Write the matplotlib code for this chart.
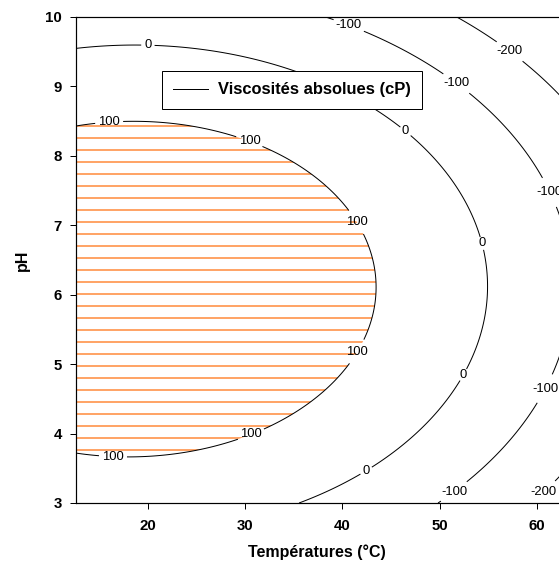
import numpy as np
import matplotlib
matplotlib.use("Agg")
import matplotlib.pyplot as plt

# points (temperature degC, pH)
lvl100_T = [12.6, 16.0, 20.2, 28.4, 33.6, 37.6, 39.3, 41.0, 43.0, 43.7, 43.2, 42.4, 40.6, 30.6, 20.1, 12.6]
lvl100_pH = [8.46, 8.50, 8.46, 8.23, 8.05, 7.65, 7.46, 7.17, 6.68, 6.17, 5.64, 5.25, 4.92, 3.99, 3.66, 3.74]
lvl0_T = [12.6, 20.0, 33.6, 46.6, 54.4, 55.5, 52.4, 42.3, 35.8]
lvl0_pH = [9.55, 9.61, 9.26, 8.37, 6.74, 6.00, 4.85, 3.50, 3.00]
lvlm100_T = [38.0, 41.4, 50.8, 51.5, 60.8, 60.8, 51.4, 49.5]
lvlm100_pH = [10.0, 9.81, 9.14, 9.0, 7.44, 4.73, 3.20, 3.00]
lvlm200_T = [52.1, 58.1, 62.4, 60.8, 60.0]
lvlm200_pH = [10.0, 9.54, 8.80, 3.15, 3.00]

levels = [-200, -100, 0, 100]
x_ticks = [20, 30, 40, 50, 60]
y_ticks = [3, 4, 5, 6, 7, 8, 9, 10]

# label positions on the lines
label_pos = [(20.0, 9.61), (46.6, 8.37), (54.4, 6.74), (52.4, 4.85), (42.3, 3.5),
             (16.0, 8.5), (30.5, 8.23), (41.5, 7.05), (41.5, 5.18), (30.6, 3.99), (16.4, 3.66),
             (40.5, 9.82), (51.5, 9.0), (60.8, 7.44), (60.8, 4.65), (51.4, 3.18),
             (57.2, 9.5), (60.8, 3.14)]

# quadratic response surface fitted through the read points
T_all = np.array(lvl100_T + lvl0_T + lvlm100_T + lvlm200_T)
P_all = np.array(lvl100_pH + lvl0_pH + lvlm100_pH + lvlm200_pH)
V_all = np.array([100] * len(lvl100_T) + [0] * len(lvl0_T)
                 + [-100] * len(lvlm100_T) + [-200] * len(lvlm200_T), dtype=float)
A = np.column_stack([np.ones_like(T_all), T_all, P_all, T_all**2, P_all**2, T_all * P_all])
coef = np.linalg.lstsq(A, V_all, rcond=None)[0]

tt, pp = np.meshgrid(np.linspace(12.6, 66, 400), np.linspace(3, 10, 400))
zz = (coef[0] + coef[1] * tt + coef[2] * pp + coef[3] * tt**2
      + coef[4] * pp**2 + coef[5] * tt * pp)

plt.rcParams['font.family'] = ['Liberation Sans', 'DejaVu Sans']
plt.rcParams['hatch.color'] = '#ff8836'
plt.rcParams['hatch.linewidth'] = 1.5
plt.rcParams['contour.negative_linestyle'] = 'solid'

dpi = 72
fig = plt.figure(figsize=(559 / dpi, 567 / dpi), dpi=dpi)
fig.patch.set_facecolor('white')
ax = fig.add_axes([76 / 559, (567 - 503) / 567, (590 - 76) / 559, (503 - 17) / 567])

ax.contourf(tt, pp, zz, levels=[100, 1e4], colors='none', hatches=['-'])
cs = ax.contour(tt, pp, zz, levels=levels, colors='black', linewidths=1.0,
                linestyles='solid')
labels = ax.clabel(cs, fmt='%d', fontsize=13, manual=label_pos, inline=True, inline_spacing=3)
for t in labels:
    t.set_rotation(0)

ax.plot([], [], color='black', lw=1.0, label='Viscosités absolues (cP)')
leg = ax.legend(loc='upper left', bbox_to_anchor=(0.167, 0.889), borderaxespad=0,
                fancybox=False, edgecolor='black', framealpha=1,
                prop={'weight': 'bold', 'size': 16.5}, handlelength=2.1,
                handletextpad=0.6, borderpad=0.7)
leg.get_frame().set_linewidth(1.0)

ax.set_xlim(12.6, 12.6 + (590 - 76) / 9.72)
ax.set_ylim(3, 10)
ax.set_xticks(x_ticks)
ax.set_yticks(y_ticks)
ax.tick_params(direction='out', length=6, width=1, labelsize=15)
ax.tick_params(axis='x', pad=10)
ax.tick_params(axis='y', pad=8)
for lab in ax.get_xticklabels() + ax.get_yticklabels():
    lab.set_fontweight('bold')

ax.spines['right'].set_visible(False)
for s in ['left', 'bottom', 'top']:
    ax.spines[s].set_linewidth(1.2)

ax.set_xlabel('Températures (°C)', fontsize=16, fontweight='bold')
ax.xaxis.set_label_coords((317 - 76) / 514, -0.085)
ax.set_ylabel('pH', fontsize=16, fontweight='bold', labelpad=15)

fig.savefig('out.png', dpi=dpi)
